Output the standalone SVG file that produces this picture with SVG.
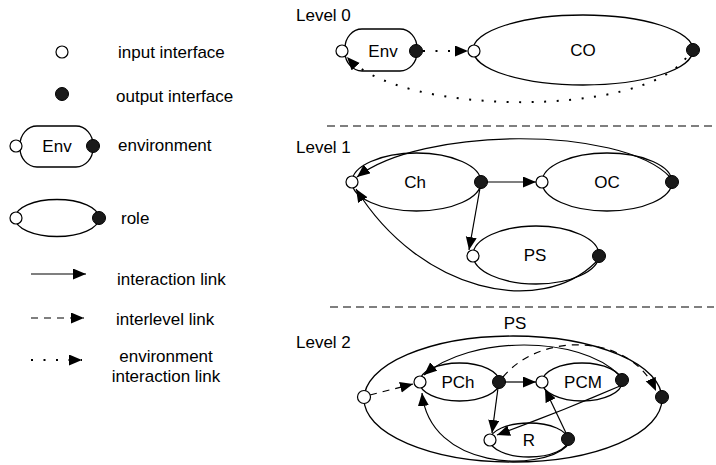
<svg xmlns="http://www.w3.org/2000/svg" width="716" height="465" viewBox="0 0 716 465">
<defs>
<marker id="arr" markerUnits="userSpaceOnUse" markerWidth="14" markerHeight="12" refX="13" refY="5.5" orient="auto">
<path d="M0,0 L13,5.5 L0,11 z" fill="#000"/>
</marker>
<style>
text{font-family:"Liberation Sans",Arial,sans-serif;font-size:17px;fill:#000;dominant-baseline:central}
.mid{text-anchor:middle}
.shape{fill:none;stroke:#000;stroke-width:1.3}
.in{fill:#fff;stroke:#000;stroke-width:1.2}
.out{fill:#1a1a1a;stroke:#000;stroke-width:1}
.link{fill:none;stroke:#000;stroke-width:1.2;marker-end:url(#arr)}
.dash{fill:none;stroke:#000;stroke-width:1.2;stroke-dasharray:7 6;marker-end:url(#arr)}
.dot{fill:none;stroke:#000;stroke-width:2;stroke-dasharray:2 10.5;marker-end:url(#arr)}
.sep{fill:none;stroke:#000;stroke-width:1.2;stroke-dasharray:8 5}
</style>
</defs>
<rect width="716" height="465" fill="#fff"/>

<!-- Legend -->
<g id="legend">
<circle class="in" cx="62" cy="52" r="6"/>
<text x="118" y="52">input interface</text>
<circle class="out" cx="62" cy="94" r="6.5"/>
<text x="116" y="96">output interface</text>
<g id="legend-env">
<rect class="shape" x="20" y="126" width="73" height="41" rx="17" ry="19"/>
<circle class="in" cx="16" cy="146" r="6"/>
<circle class="out" cx="93" cy="146" r="6.5"/>
<text class="mid" x="57" y="146">Env</text>
</g>
<text x="118" y="145">environment</text>
<g id="legend-role">
<ellipse class="shape" cx="57" cy="218" rx="42" ry="18.5"/>
<circle class="in" cx="16" cy="218" r="6"/>
<circle class="out" cx="99" cy="218" r="6.5"/>
</g>
<text x="121" y="218">role</text>
<path class="link" d="M31,274 L86,274"/>
<text x="117" y="279">interaction link</text>
<path class="dash" d="M31,318 L84,318"/>
<text x="116" y="319">interlevel link</text>
<path class="dot" d="M31,360 L82,360"/>
<text class="mid" x="166" y="356">environment</text>
<text class="mid" x="166" y="376">interaction link</text>
</g>

<!-- separators -->
<path class="sep" d="M327,126 L714,126"/>
<path class="sep" d="M330,307 L714,307"/>

<text x="296" y="15">Level 0</text>
<text x="296" y="147">Level 1</text>
<text x="296" y="342">Level 2</text>

<!-- Level 0 -->
<g id="env0">
<rect class="shape" x="345" y="29" width="72" height="42" rx="17" ry="19"/>
<circle class="in" cx="342" cy="51" r="6"/>
<circle class="out" cx="416" cy="51" r="6.5"/>
<text class="mid" x="383" y="51">Env</text>
</g>
<g id="co">
<ellipse class="shape" cx="583" cy="50" rx="110" ry="35"/>
<circle class="in" cx="474" cy="51" r="6"/>
<circle class="out" cx="693" cy="50" r="6.5"/>
<text class="mid" x="583" y="50">CO</text>
</g>

<!-- Level 1 -->
<g id="ch">
<ellipse class="shape" cx="416.5" cy="182" rx="64.5" ry="29"/>
<circle class="in" cx="352" cy="182" r="6"/>
<circle class="out" cx="481" cy="182" r="6.5"/>
<text class="mid" x="415" y="182">Ch</text>
</g>
<g id="oc">
<ellipse class="shape" cx="607" cy="182" rx="65" ry="29"/>
<circle class="in" cx="542" cy="182" r="6"/>
<circle class="out" cx="672" cy="182" r="6.5"/>
<text class="mid" x="607" y="182">OC</text>
</g>
<g id="ps1">
<ellipse class="shape" cx="536" cy="255" rx="63" ry="29"/>
<circle class="in" cx="473" cy="256" r="6"/>
<circle class="out" cx="599" cy="256" r="6.5"/>
<text class="mid" x="535" y="255">PS</text>
</g>

<!-- Level 2 -->
<g id="ps2">
<ellipse class="shape" cx="513" cy="399" rx="149" ry="63"/>
<circle class="in" cx="364" cy="397" r="6.5"/>
<circle class="out" cx="662" cy="397" r="6.5"/>
<text class="mid" x="515" y="323">PS</text>
</g>
<g id="pch">
<ellipse class="shape" cx="459.5" cy="382" rx="40" ry="19"/>
<circle class="in" cx="420" cy="382" r="6"/>
<circle class="out" cx="499" cy="382" r="6.5"/>
<text class="mid" x="458" y="382">PCh</text>
</g>
<g id="pcm">
<ellipse class="shape" cx="582" cy="382" rx="40" ry="19"/>
<circle class="in" cx="542" cy="382" r="6"/>
<circle class="out" cx="622" cy="380" r="6.5"/>
<text class="mid" x="583" y="382">PCM</text>
</g>
<g id="r">
<ellipse class="shape" cx="529" cy="440" rx="39" ry="17"/>
<circle class="in" cx="490" cy="440" r="6"/>
<circle class="out" cx="568" cy="439" r="6.5"/>
<text class="mid" x="529" y="440">R</text>
</g>

<!-- connectors -->
<g id="connectors">
<path class="dot" d="M423,51 L468,51"/>
<path class="dot" d="M686,58 C640,118 400,116 347,57"/>

<path class="link" d="M487,182 L536,182"/>
<path class="link" d="M480,188 L469,250"/>
<path class="link" d="M670,177 C620,125 420,127 357,177"/>
<path class="link" d="M596,262 C540,318 420,292 356,189"/>

<path class="dash" d="M370,395 L413,384"/>
<path class="dash" d="M503,377 C540,332 630,332 656,391"/>
<path class="link" d="M505,382 L536,382"/>
<path class="link" d="M498,388 L492,433"/>
<path class="link" d="M619,375 C580,335 470,335 424,375"/>
<path class="link" d="M620,386 Q560,412 497,435"/>
<path class="link" d="M566,433 L545,389"/>
<path class="link" d="M567,446 C540,472 430,470 422,393"/>
</g>
</svg>
